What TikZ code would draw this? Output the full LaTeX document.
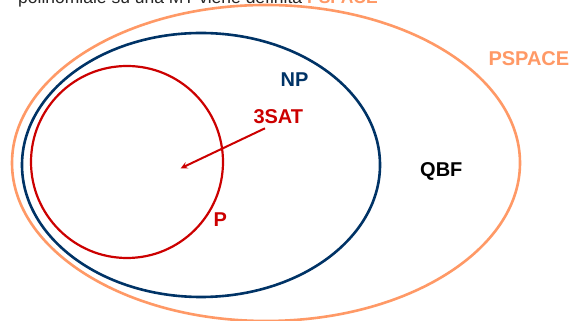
\documentclass[tikz,border=0pt]{standalone}
\usepackage{fontspec}
\setmainfont{Liberation Sans}
\definecolor{psorange}{HTML}{FF9966}
\definecolor{npblue}{HTML}{003366}
\definecolor{pred}{HTML}{CC0000}
\tikzset{
  setlabel/.style={anchor=base west,inner sep=0pt,font=\fontsize{20}{24}\selectfont\bfseries}
}
\begin{document}
\begin{tikzpicture}[x=1pt,y=1pt]
\clip (0,0) rectangle (574,321);
\fill[white] (0,0) rectangle (574,321);
\node[anchor=base west,inner sep=0pt,font=\fontsize{17.5}{21}\selectfont,text=black!85] (intro) at (18,317)
  {polinomiale su una MT viene definita \textcolor{psorange}{\bfseries PSPACE}};
\draw[psorange,line width=2.6pt] (266,158) ellipse [x radius=254,y radius=158];
\draw[npblue,line width=2.6pt] (201,156) ellipse [x radius=179,y radius=132];
\draw[pred,line width=2.2pt] (127,159) circle [radius=96];
\node[setlabel,text=npblue] (np) at (280.5,234.3) {NP};
\node[setlabel,text=pred] (sat) at (253.3,197.7) {3SAT};
\node[setlabel] (qbf) at (420,144.3) {QBF};
\node[setlabel,text=psorange] (pspace) at (488.3,255) {PSPACE};
\node[setlabel,text=pred] (p) at (213.3,94.3) {P};
\coordinate (satfoot) at (265,192.7);
\coordinate (ptip) at (180.7,152.7);
\draw[pred,line width=2pt,-stealth] (satfoot) -- (ptip);
\end{tikzpicture}
\end{document}
